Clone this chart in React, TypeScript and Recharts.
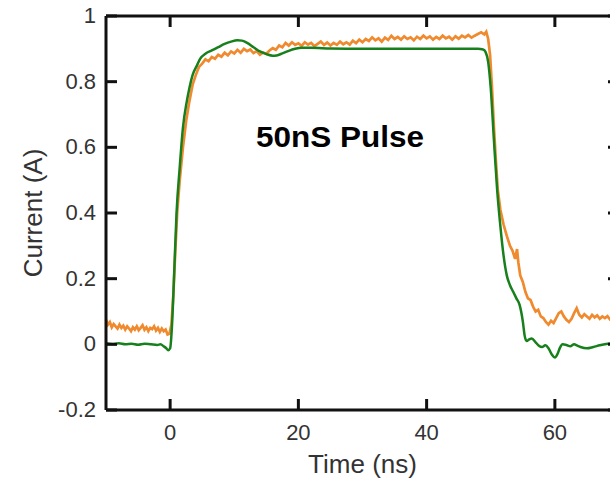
import React from 'react';
import { LineChart, Line, XAxis, YAxis } from 'recharts';

const greenTime = [-10, -9, -8, -7, -6, -5, -4, -3, -2, -1.5, -1, -0.6, -0.3, 0, 0.3, 0.6, 1.0, 1.5, 2.0, 2.6, 3.0, 3.5, 4.2, 4.7, 5.5, 6.5, 7.5, 8.5, 9.5, 10.5, 11.2, 12, 13, 14, 15, 16, 16.6, 17.5, 18.5, 19.5, 20.5, 22, 25, 30, 35, 40, 45, 48, 48.8, 49.2, 49.6, 50, 50.5, 51, 51.5, 52, 52.5, 53, 53.5, 54, 54.5, 55, 55.3, 55.6, 56, 56.4, 57, 57.5, 58, 58.5, 59, 59.5, 60, 60.4, 60.8, 61.2, 61.8, 62.4, 63, 63.5, 64, 65, 66, 67, 68, 70];
const greenCurrent = [0.003, 0.001, 0.003, 0.0, 0.002, -0.001, 0.002, 0.0, -0.002, 0.0, -0.006, -0.012, -0.018, -0.012, 0.06, 0.2, 0.4, 0.54, 0.66, 0.74, 0.78, 0.82, 0.85, 0.87, 0.885, 0.895, 0.905, 0.915, 0.922, 0.926, 0.925, 0.918, 0.905, 0.892, 0.884, 0.879, 0.88, 0.886, 0.894, 0.9, 0.903, 0.903, 0.901, 0.9, 0.9, 0.9, 0.9, 0.9, 0.898, 0.89, 0.86, 0.78, 0.62, 0.47, 0.36, 0.27, 0.21, 0.18, 0.16, 0.14, 0.12, 0.07, 0.025, 0.01, 0.015, 0.018, 0.006, -0.004, -0.008, -0.003, -0.012, -0.03, -0.04, -0.03, -0.01, 0.0, -0.002, -0.006, 0.0, -0.004, -0.008, -0.012, -0.008, -0.003, 0.001, 0.004];

const orangeTime = [-10, -9.7, -9.4, -9.1, -8.8, -8.5, -8.2, -7.9, -7.6, -7.3, -7.0, -6.7, -6.4, -6.1, -5.8, -5.5, -5.2, -4.9, -4.6, -4.3, -4.0, -3.7, -3.4, -3.1, -2.8, -2.5, -2.2, -1.9, -1.6, -1.3, -1.0, -0.7, -0.4, -0.1, 0.2, 0.5, 0.8, 1.1, 1.5, 2.0, 2.5, 3.0, 3.5, 4.0, 4.5, 5.0, 5.5, 6.0, 6.5, 7.0, 7.5, 8.0, 8.5, 9.0, 9.5, 10.0, 10.5, 11.0, 11.5, 12.0, 12.5, 13.0, 13.5, 14.0, 14.5, 15.0, 15.5, 16.0, 16.5, 17.0, 17.5, 18.0, 18.5, 19.0, 19.5, 20.0, 20.5, 21.0, 21.5, 22.0, 22.5, 23.0, 23.5, 24.0, 24.5, 25.0, 25.5, 26.0, 26.5, 27.0, 27.5, 28.0, 28.5, 29.0, 29.5, 30.0, 30.5, 31.0, 31.5, 32.0, 32.5, 33.0, 33.5, 34.0, 34.5, 35.0, 35.5, 36.0, 36.5, 37.0, 37.5, 38.0, 38.5, 39.0, 39.5, 40.0, 40.5, 41.0, 41.5, 42.0, 42.5, 43.0, 43.5, 44.0, 44.5, 45.0, 45.5, 46.0, 46.5, 47.0, 47.5, 48.0, 48.5, 49.0, 49.3, 49.6, 49.9, 50.2, 50.5, 50.8, 51.1, 51.5, 52.0, 52.5, 53.0, 53.4, 53.8, 54.1, 54.3, 54.6, 55.0, 55.4, 55.8, 56.2, 56.6, 57.0, 57.4, 57.8, 58.2, 58.6, 59.0, 59.4, 59.8, 60.2, 60.6, 61.0, 61.4, 61.8, 62.2, 62.6, 63.0, 63.4, 63.8, 64.2, 64.6, 65.0, 65.4, 65.8, 66.2, 66.6, 67.0, 67.4, 67.8, 68.2, 68.6, 69.0, 69.5, 70];
const orangeCurrent = [0.075, 0.06, 0.068, 0.052, 0.062, 0.055, 0.048, 0.06, 0.05, 0.057, 0.045, 0.055, 0.048, 0.04, 0.052, 0.045, 0.055, 0.043, 0.05, 0.058, 0.044, 0.052, 0.04, 0.05, 0.046, 0.055, 0.042, 0.05, 0.038, 0.048, 0.04, 0.045, 0.03, 0.032, 0.06, 0.15, 0.28, 0.4, 0.5, 0.6, 0.68, 0.74, 0.79, 0.82, 0.845, 0.855, 0.868, 0.862, 0.875, 0.87, 0.882, 0.876, 0.888, 0.88, 0.892, 0.886, 0.897, 0.888, 0.9, 0.893, 0.898, 0.887, 0.893, 0.882, 0.889, 0.885, 0.895, 0.902, 0.897, 0.91, 0.905, 0.918, 0.91, 0.92, 0.912, 0.917, 0.909, 0.92, 0.913, 0.918, 0.908, 0.915, 0.922, 0.912, 0.919, 0.91, 0.918, 0.912, 0.922, 0.914, 0.92, 0.913, 0.925, 0.917, 0.928, 0.92, 0.93, 0.924, 0.935, 0.926, 0.932, 0.922, 0.934, 0.927, 0.94, 0.93, 0.936, 0.928, 0.938, 0.93, 0.935, 0.926, 0.937, 0.93, 0.94, 0.932, 0.938, 0.928, 0.936, 0.93, 0.94, 0.932, 0.937, 0.928, 0.938, 0.931, 0.94, 0.935, 0.942, 0.934, 0.94, 0.945, 0.95, 0.944, 0.952, 0.93, 0.88, 0.78, 0.66, 0.56, 0.47, 0.41, 0.365, 0.33, 0.3, 0.285, 0.26, 0.29, 0.25, 0.21, 0.19, 0.16, 0.14, 0.135, 0.115, 0.1, 0.105, 0.085, 0.08, 0.068, 0.06, 0.072, 0.065, 0.08, 0.095, 0.1, 0.085, 0.075, 0.068, 0.078, 0.095, 0.11, 0.09, 0.082, 0.092, 0.085, 0.078, 0.09, 0.082, 0.088, 0.078, 0.085, 0.08, 0.086, 0.076, 0.082, 0.08, 0.083];

const xTicks = [0, 20, 40, 60];
const yTicks = [-0.2, 0, 0.2, 0.4, 0.6, 0.8, 1];
const xDomain = [-10, 70];
const yDomain = [-0.2, 1];
const xTitle = 'Time (ns)';
const yTitle = 'Current (A)';
const annotation = '50nS Pulse';

const orangeData = orangeTime.map((t, i) => ({ t, v: orangeCurrent[i] }));
const greenData = greenTime.map((t, i) => ({ t, v: greenCurrent[i] }));

const FONT = "'Liberation Sans', Arial, Helvetica, sans-serif";
const AXIS = '#111';
const LABEL = '#333';
const tickLineStyle = { stroke: AXIS, strokeWidth: 3 };
const axisLineStyle = { stroke: AXIS, strokeWidth: 3 };

const fmt = (v: number) => String(Math.round(v * 10) / 10);

const BottomTick = (p: any) => (
  <text x={p.x} y={p.y + 30} textAnchor="middle" fontSize={22} fill={LABEL} fontFamily={FONT}>
    {fmt(p.payload.value)}
  </text>
);
const LeftTick = (p: any) => (
  <text x={p.x - 10} y={p.y + 7} textAnchor="end" fontSize={22} fill={LABEL} fontFamily={FONT}>
    {fmt(p.payload.value)}
  </text>
);
const NoText = () => <g />;

export default function App() {
  return (
    <div style={{ position: 'absolute', left: 0, top: 0, width: 610, height: 478, overflow: 'hidden', background: '#fff' }}>
      <LineChart width={640} height={478} margin={{ top: 15, right: 20, bottom: 0, left: 0 }}>
        <XAxis
          xAxisId="bottom"
          dataKey="t"
          type="number"
          domain={xDomain}
          ticks={xTicks}
          interval={0}
          height={68}
          tickSize={-11}
          tickMargin={11}
          tickLine={tickLineStyle}
          axisLine={axisLineStyle}
          tick={BottomTick}
          label={{ value: xTitle, position: 'center', dy: 20, fontSize: 26, fill: LABEL, fontFamily: FONT }}
        />
        <XAxis
          xAxisId="top"
          orientation="top"
          dataKey="t"
          type="number"
          domain={xDomain}
          ticks={xTicks}
          interval={0}
          height={1}
          tickSize={-11}
          tickMargin={0}
          tickLine={tickLineStyle}
          axisLine={axisLineStyle}
          tick={NoText}
        />
        <YAxis
          yAxisId="left"
          type="number"
          domain={yDomain}
          ticks={yTicks}
          interval={0}
          width={106}
          tickSize={-11}
          tickMargin={11}
          tickLine={tickLineStyle}
          axisLine={axisLineStyle}
          tick={LeftTick}
          label={{ value: yTitle, angle: -90, position: 'center', dx: -20, fontSize: 26, fill: LABEL, fontFamily: FONT }}
        />
        <YAxis
          yAxisId="right"
          orientation="right"
          type="number"
          domain={yDomain}
          ticks={yTicks}
          interval={0}
          width={1}
          tickSize={-11}
          tickMargin={0}
          tickLine={tickLineStyle}
          axisLine={axisLineStyle}
          tick={NoText}
        />
        <Line
          data={orangeData}
          dataKey="v"
          xAxisId="bottom"
          yAxisId="left"
          type="linear"
          stroke="#f08a2e"
          strokeWidth={2.7}
          dot={false}
          isAnimationActive={false}
        />
        <Line
          data={greenData}
          dataKey="v"
          xAxisId="top"
          yAxisId="right"
          type="monotone"
          stroke="#17801c"
          strokeWidth={2.5}
          dot={false}
          isAnimationActive={false}
        />
      </LineChart>
      <svg width={610} height={478} style={{ position: 'absolute', left: 0, top: 0, pointerEvents: 'none' }}>
        <text x={340} y={147} textAnchor="middle" fontSize={29} fontWeight="bold" fill="#000" fontFamily={FONT} textLength={168} lengthAdjust="spacingAndGlyphs">
          {annotation}
        </text>
      </svg>
    </div>
  );
}
